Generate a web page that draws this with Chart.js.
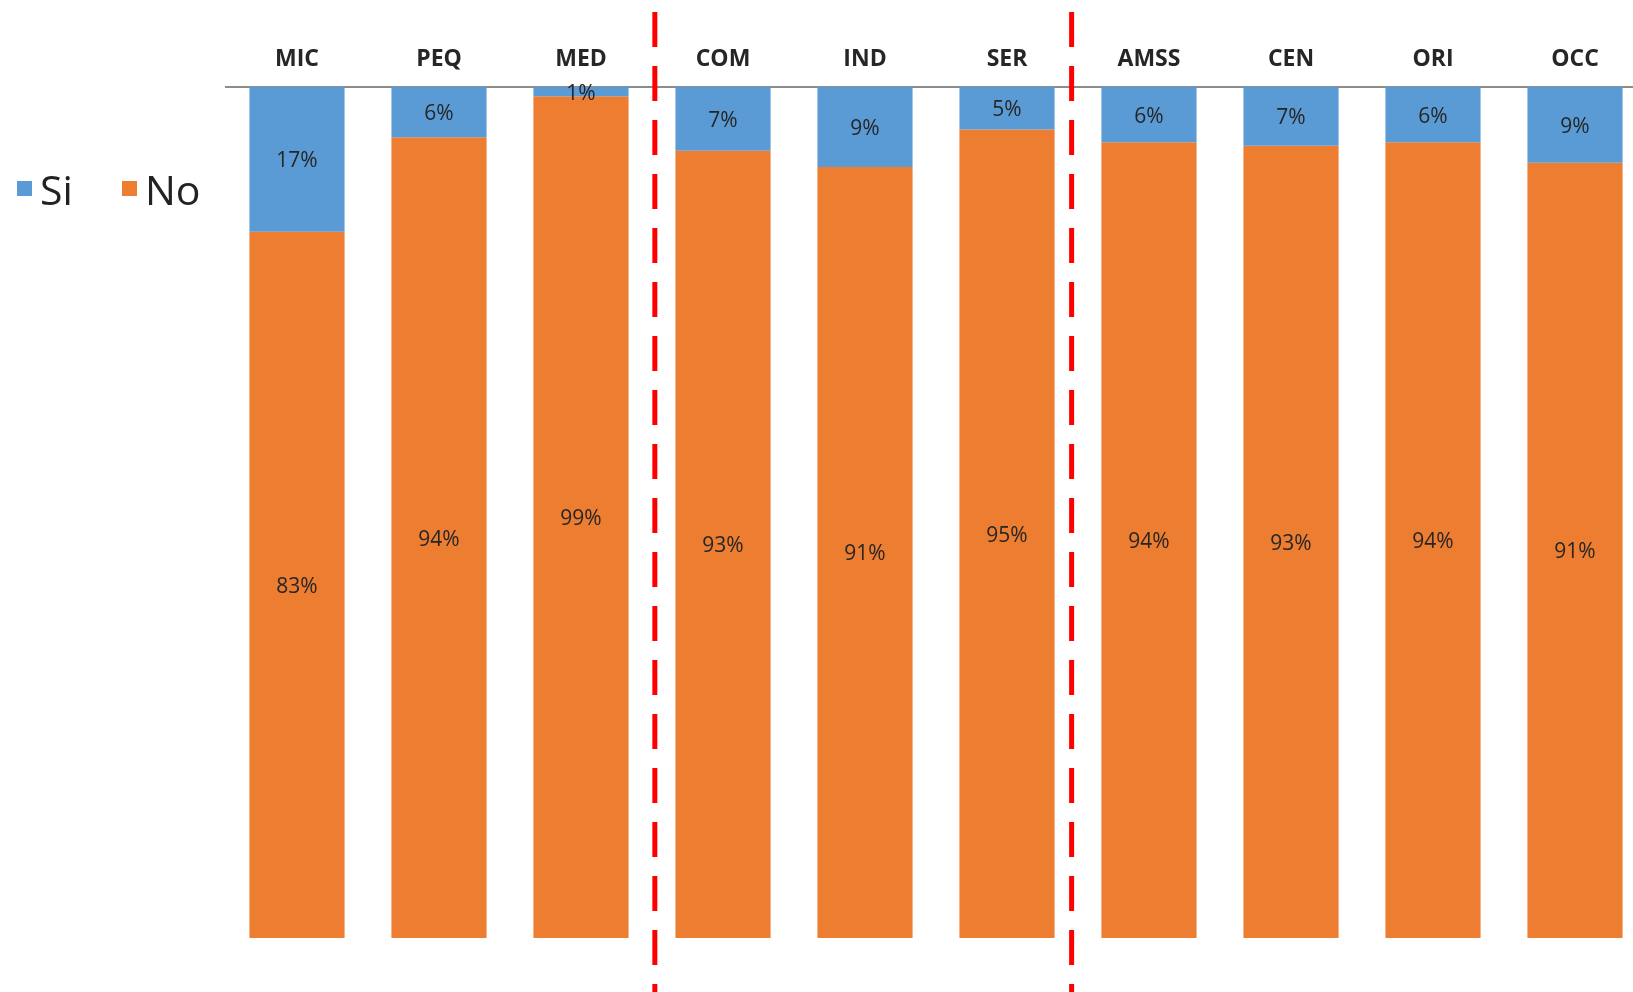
<!DOCTYPE html>
<html>
<head>
<meta charset="utf-8">
<script src="https://cdn.jsdelivr.net/npm/chart.js@4"></script>
<style>
    body { margin: 0; overflow: hidden; background: #fff; }
    #wrap { position: relative; width: 1633px; height: 992px; overflow: hidden; }
    #myChart { display: block; }
    .legend { position: absolute; top: 164px; left: 17px; font-family: "Open Sans", sans-serif; font-size: 41px; color: #222; }
    .legend span { position: absolute; white-space: nowrap; }
    .legend i { display: inline-block; width: 15px; height: 15px; position: absolute; }
</style>
</head>
<body>
<div id="wrap">
    <canvas id="myChart" width="1660" height="992"></canvas>
    <div class="legend">
        <i style="background:#5B9BD5; left:0; top:17px;"></i><span style="left:23px; top:-3px;">Si</span>
        <i style="background:#ED7D31; left:105px; top:17px;"></i><span style="left:128px; top:-3px;">No</span>
    </div>
</div>
<script>
const categorias = ['MIC', 'PEQ', 'MED', 'COM', 'IND', 'SER', 'AMSS', 'CEN', 'ORI', 'OCC'];
// valores (alto de cada segmento)
const si = [17, 5.9, 1.1, 7.5, 9.4, 5.0, 6.5, 6.9, 6.5, 8.9];
const no = [83, 94.1, 98.9, 92.5, 90.6, 95.0, 93.5, 93.1, 93.5, 91.1];
// etiquetas tal como aparecen
const siEtiqueta = ['17%', '6%', '1%', '7%', '9%', '5%', '6%', '7%', '6%', '9%'];
const noEtiqueta = ['83%', '94%', '99%', '93%', '91%', '95%', '94%', '93%', '94%', '91%'];
// posisi garis putus-putus merah (dalam satuan kategori)
const pemisah = [2.52, 5.455];

const labelPlugin = {
    id: 'labelPlugin',
    afterDatasetsDraw(chart) {
        const ctx = chart.ctx;
        const etiquetas = [siEtiqueta, noEtiqueta];
        ctx.save();
        ctx.font = '21px "Open Sans", sans-serif';
        ctx.fillStyle = '#262626';
        ctx.textAlign = 'center';
        ctx.textBaseline = 'middle';
        chart.data.datasets.forEach((ds, i) => {
            chart.getDatasetMeta(i).data.forEach((bar, j) => {
                const y = (bar.y + bar.base) / 2;
                ctx.fillText(etiquetas[i][j], bar.x, y + 2);
            });
        });
        ctx.restore();
    },
    afterDraw(chart) {
        const ctx = chart.ctx;
        const x = chart.scales.x;
        ctx.save();
        ctx.strokeStyle = '#FF0000';
        ctx.lineWidth = 5;
        ctx.setLineDash([35, 19]);
        pemisah.forEach(v => {
            const px = x.getPixelForValue(0) + (x.getPixelForValue(1) - x.getPixelForValue(0)) * v;
            ctx.beginPath();
            ctx.moveTo(px, 12);
            ctx.lineTo(px, 992);
            ctx.stroke();
        });
        ctx.restore();
    }
};

const ctx = document.getElementById('myChart');

const chart = new Chart(ctx, {
    type: 'bar',
    data: {
        labels: categorias,
        datasets: [
{
    label: 'Si',
    data: si,
    backgroundColor: '#5B9BD5',
    barPercentage: 0.67,
    categoryPercentage: 1
},
{
    label: 'No',
    data: no,
    backgroundColor: '#ED7D31',
    barPercentage: 0.67,
    categoryPercentage: 1
}
]
    },
    options: {
    responsive: false,
    animation: false,
    layout: {
        padding: { left: 226, right: 14, top: 0, bottom: 54 }
    },
    plugins: {
        legend: { display: false },
        tooltip: { enabled: false }
    },
    scales: {
    x: {
        position: 'top',
        stacked: true,
        grid: { display: false, drawTicks: false },
        border: { display: true, color: '#8C8C8C', width: 2 },
        ticks: {
            color: '#262626',
            padding: 14,
            font: { family: '"Open Sans", sans-serif', size: 23, weight: 'bold' }
        },
        afterFit(scale) { scale.height = 87; }
    },
    y: {
        display: false,
        stacked: true,
        reverse: true,
        min: 0,
        max: 100
    }
}
},
    plugins: [labelPlugin]
});
</script>
</body>
</html>
